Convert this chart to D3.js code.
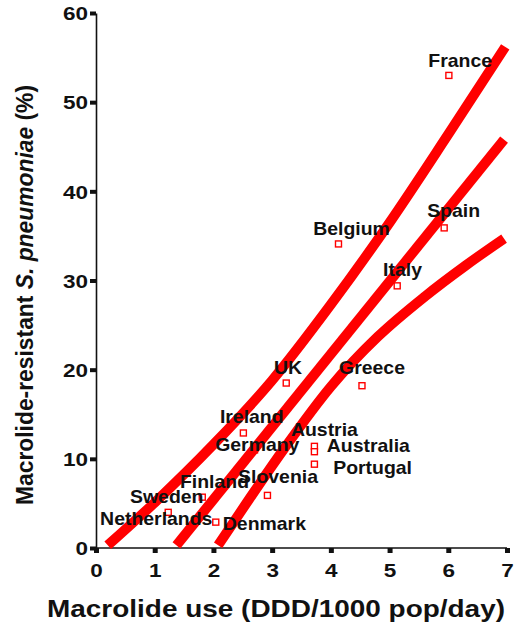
<!DOCTYPE html>
<html>
<head>
<meta charset="utf-8">
<script src="https://cdn.jsdelivr.net/npm/d3@7"></script>
<style>
  body { margin: 0; background: #fff; }
  text { font-family: "Liberation Sans", Arial, sans-serif; font-weight: bold; fill: #111; }
</style>
</head>
<body>
<svg id="chart" width="515" height="623"></svg>
<script>
// countries, macrolide use (DDD/1000 pop/day) and resistance (%)
const countries = ["France", "Spain", "Belgium", "Italy", "UK", "Greece", "Ireland", "Germany",
  "Austria", "Australia", "Portugal", "Slovenia", "Denmark", "Finland", "Sweden", "Netherlands"];
const use = [6.01, 5.93, 4.13, 5.13, 3.24, 4.53, 2.51, 2.70, 3.72, 3.72, 3.72, 2.92, 2.04, 1.81, 1.00, 1.23];
const resistance = [53.0, 35.9, 34.1, 29.4, 18.5, 18.2, 12.9, 11.0, 11.4, 10.8, 9.4, 5.9, 2.9, 5.7, 5.2, 4.0];
// where each country name sits, in data units (left end of the text, baseline)
const labelX = [5.66, 5.64, 3.70, 4.89, 3.03, 4.14, 2.11, 2.03, 3.32, 3.93, 4.04, 2.42, 2.16, 1.43, 0.58, 0.07];
const labelY = [53.9, 37.1, 35.1, 30.5, 19.5, 19.5, 14.0, 10.9, 12.6, 10.8, 8.3, 7.3, 2.0, 6.7, 5.0, 2.6];

// regression line and its two bands as [x, y] points
const upperBand = [[0.20, 0.3], [1.0, 5.1], [2.0, 11.6], [3.0, 18.8], [4.0, 27.3], [5.0, 36.5], [6.0, 46.4], [6.97, 56.2]];
const fitLine = [[1.37, 0.3], [6.95, 45.8]];
const lowerBand = [[2.08, 0.3], [2.6, 5.4], [3.2, 11.1], [4.0, 18.1], [4.8, 23.7], [5.6, 28.2], [6.3, 31.7], [6.95, 34.7]];

const xTicks = [0, 1, 2, 3, 4, 5, 6, 7];
const yTicks = [0, 10, 20, 30, 40, 50, 60];

const svg = d3.select("#chart");

const x = d3.scaleLinear().domain([0, 7]).range([96, 507]);
const y = d3.scaleLinear().domain([0, 60]).range([548, 13]);

// axes
const xAxis = svg.append("g")
  .attr("transform", "translate(0," + y(0) + ")")
  .call(d3.axisBottom(x).tickValues(xTicks).tickFormat(d3.format("d")).tickSize(5).tickSizeOuter(0));
xAxis.select(".domain").attr("stroke", "#111").attr("stroke-width", 1.6).attr("d", "M" + (x(0) - 3) + ",0H" + x(7));
xAxis.selectAll(".tick line").attr("stroke", "#111").attr("stroke-width", 5);
xAxis.selectAll(".tick text")
  .attr("y", 29).attr("dy", 0)
  .attr("transform", "scale(1.25,1)")
  .style("font-size", "18px");

const yAxis = svg.append("g")
  .attr("transform", "translate(" + x(0) + ",0)")
  .call(d3.axisLeft(y).tickValues(yTicks).tickSize(6).tickSizeOuter(0));
yAxis.select(".domain").attr("stroke", "#111").attr("stroke-width", 1.6);
yAxis.selectAll(".tick line").attr("stroke", "#111").attr("stroke-width", 4);
yAxis.selectAll(".tick text")
  .attr("x", null)
  .attr("transform", "translate(-8,1) scale(1.25,1)")
  .style("font-size", "18px");
svg.selectAll(".tick text").style("font-family", "'Liberation Sans', Arial, sans-serif").attr("fill", "#111");

// points
svg.append("g")
  .selectAll("rect")
  .data(countries)
  .join("rect")
  .attr("x", (d, i) => x(use[i]) - 3)
  .attr("y", (d, i) => y(resistance[i]) - 3)
  .attr("width", 6)
  .attr("height", 6)
  .attr("fill", "#fff")
  .attr("stroke", "#f00")
  .attr("stroke-width", 1.4);

// fitted line and bands
const line = d3.line()
  .x(d => x(d[0]))
  .y(d => y(d[1]))
  .curve(d3.curveMonotoneX);

svg.append("g")
  .selectAll("path")
  .data([upperBand, fitLine, lowerBand])
  .join("path")
  .attr("d", line)
  .attr("fill", "none")
  .attr("stroke", "#f00")
  .attr("stroke-width", 10);

// country names
svg.append("g")
  .selectAll("text")
  .data(countries)
  .join("text")
  .attr("transform", (d, i) => "translate(" + x(labelX[i]) + "," + y(labelY[i]) + ") scale(1.08,1)")
  .style("font-size", "18px")
  .text(d => d);

// axis titles
svg.append("text")
  .attr("x", 276)
  .attr("y", 617)
  .attr("text-anchor", "middle")
  .attr("textLength", 458)
  .attr("lengthAdjust", "spacingAndGlyphs")
  .style("font-size", "24px")
  .text("Macrolide use (DDD/1000 pop/day)");

const yTitle = svg.append("text")
  .attr("transform", "translate(33,295) rotate(-90)")
  .attr("text-anchor", "middle")
  .attr("textLength", 420)
  .attr("lengthAdjust", "spacingAndGlyphs")
  .style("font-size", "24px");
yTitle.append("tspan").text("Macrolide-resistant ");
yTitle.append("tspan").style("font-style", "italic").text("S. pneumoniae");
yTitle.append("tspan").text(" (%)");
</script>
</body>
</html>
